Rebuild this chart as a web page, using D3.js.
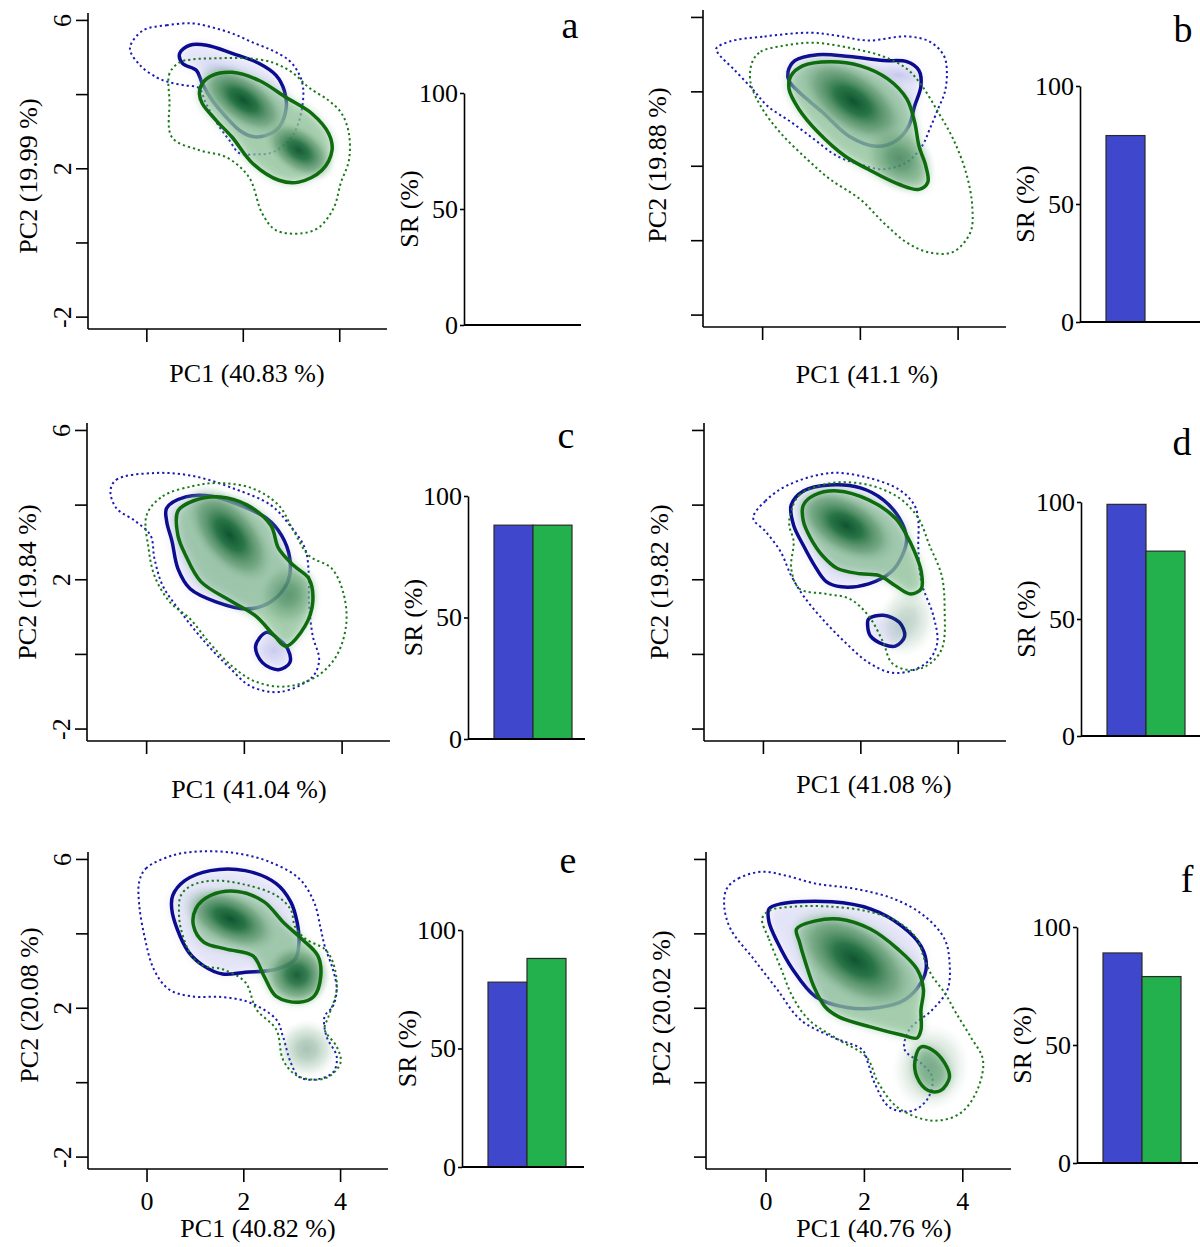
<!DOCTYPE html>
<html><head><meta charset="utf-8">
<script src="https://cdn.jsdelivr.net/npm/d3@7"></script>
<style>
body{margin:0;background:#fff}
text{font-family:"Liberation Serif","Times New Roman",serif;fill:#000}
</style></head>
<body><svg id="c" width="1200" height="1247"></svg>
<script>
// ---------------- DATA ----------------
const panelLetters = ["a","b","c","d","e","f"];
const pc1Titles = ["PC1 (40.83 %)","PC1 (41.1 %)","PC1 (41.04 %)","PC1 (41.08 %)","PC1 (40.82 %)","PC1 (40.76 %)"];
const pc2Titles = ["PC2 (19.99 %)","PC2 (19.88 %)","PC2 (19.84 %)","PC2 (19.82 %)","PC2 (20.08 %)","PC2 (20.02 %)"];
const srGroups = ["blue","green"];
const srBlue  = [null, 79, 88, 99, 78, 89];
const srGreen = [null, null, 88, 79, 88, 79];
const srTicks = [0, 50, 100];
const pcYTicks = [6, 4, 2, 0, -2];
const pcYTickLabels = [6, 2, -2];
const pcXTicks = [0, 2, 4];

// contours in (PC1, PC2) units
const blueDottedA = [[-0.08,5.73],[0.41,5.87],[0.95,5.92],[1.36,5.81],[1.77,5.65],[2.19,5.41],[2.60,5.19],[2.95,4.92],[3.15,4.57],[3.24,4.19],[3.22,3.65],[3.11,3.12],[2.95,2.77],[2.60,2.44],[2.27,2.39],[1.92,2.42],[1.71,2.77],[1.51,3.12],[1.34,3.49],[1.20,3.84],[1.09,4.17],[0.78,4.25],[0.47,4.33],[0.21,4.46],[-0.14,4.79],[-0.35,5.25]];
const greenDottedA = [[0.68,4.87],[0.47,4.57],[0.47,3.84],[0.52,2.85],[1.09,2.50],[1.65,2.31],[2.12,1.77],[2.39,0.80],[2.68,0.34],[3.22,0.26],[3.57,0.42],[3.88,0.96],[4.02,1.61],[4.19,2.23],[4.19,2.95],[4.04,3.49],[3.77,3.84],[3.36,4.19],[3.01,4.60],[2.60,4.87],[2.06,4.98],[1.51,4.98],[0.95,4.95]];
const blueSolidA = [[[0.68,5.11],[0.89,5.33],[1.24,5.33],[1.77,5.11],[2.33,4.84],[2.68,4.52],[2.85,4.11],[2.89,3.65],[2.74,3.12],[2.47,2.90],[2.19,2.87],[1.92,3.04],[1.65,3.39],[1.36,3.84],[1.15,4.30],[1.03,4.65],[0.74,4.84]]];
const greenSolidA = [[[1.15,4.30],[1.36,4.52],[1.77,4.60],[2.33,4.38],[2.89,3.92],[3.42,3.49],[3.77,2.95],[3.84,2.50],[3.63,1.96],[3.15,1.64],[2.74,1.69],[2.19,2.15],[1.77,2.85],[1.44,3.30],[1.15,3.76],[1.09,4.03]]];

const blueDottedB = [[-0.68,5.35],[0.04,5.49],[0.97,5.59],[1.53,5.51],[2.16,5.38],[2.95,5.49],[3.42,5.35],[3.71,4.97],[3.77,4.54],[3.73,4.00],[3.59,3.54],[3.42,3.00],[3.26,2.54],[2.95,2.11],[2.47,1.92],[2.00,2.05],[1.53,2.27],[1.05,2.73],[0.58,3.19],[0.10,3.62],[-0.21,4.08],[-0.60,4.62],[-0.87,4.97],[-0.95,5.16]];
const greenDottedB = [[-0.21,4.81],[-0.04,5.08],[0.43,5.24],[1.05,5.32],[1.86,5.16],[2.47,4.95],[2.95,4.62],[3.26,4.16],[3.59,3.46],[3.90,2.73],[4.16,1.84],[4.29,0.92],[4.25,0.22],[3.90,-0.30],[3.42,-0.32],[2.95,-0.05],[2.47,0.49],[2.00,1.11],[1.38,1.65],[0.91,2.19],[0.35,2.92],[-0.04,3.62],[-0.25,4.27]];
const blueSolidB = [[[0.52,4.54],[0.66,4.84],[1.13,5.00],[1.77,4.95],[2.47,4.84],[2.95,4.81],[3.20,4.57],[3.24,4.16],[3.11,3.62],[2.99,3.08],[2.72,2.68],[2.33,2.54],[1.77,2.81],[1.22,3.46],[0.74,4.00],[0.54,4.30]]];
const greenSolidB = [[[0.58,4.43],[0.82,4.70],[1.38,4.81],[2.00,4.70],[2.56,4.35],[2.95,3.81],[3.11,3.19],[3.20,2.54],[3.34,2.00],[3.38,1.57],[3.20,1.38],[2.80,1.51],[2.16,1.92],[1.69,2.27],[1.13,2.92],[0.74,3.54],[0.54,4.08]]];

const blueDottedC = [[-0.74,4.38],[-0.62,4.68],[0.16,4.86],[0.95,4.78],[1.75,4.46],[2.54,4.00],[2.93,3.46],[3.24,2.84],[3.32,2.11],[3.32,1.41],[3.40,0.49],[3.53,-0.14],[3.40,-0.59],[2.76,-1.00],[2.14,-0.86],[1.67,-0.32],[1.20,0.32],[0.72,1.10],[0.33,1.84],[0.16,2.57],[0.08,3.19],[-0.23,3.57],[-0.62,3.92]];
const greenDottedC = [[0.00,3.73],[0.33,4.24],[0.95,4.51],[1.42,4.59],[2.14,4.46],[2.70,4.00],[3.01,3.30],[3.32,2.65],[3.79,2.30],[4.04,1.57],[4.08,0.76],[3.88,-0.05],[3.48,-0.59],[2.85,-0.86],[2.23,-0.73],[1.75,-0.32],[1.28,0.32],[0.89,0.95],[0.47,1.41],[0.16,2.11],[0.04,2.84]];
const blueSolidC = [[[0.41,3.92],[0.80,4.22],[1.34,4.24],[1.90,4.00],[2.45,3.65],[2.76,3.19],[2.93,2.57],[2.89,1.95],[2.54,1.41],[2.06,1.22],[1.42,1.41],[0.89,1.76],[0.64,2.30],[0.52,3.03],[0.41,3.57]],[[2.45,0.59],[2.23,0.22],[2.37,-0.22],[2.70,-0.41],[2.93,-0.22],[2.89,0.14],[2.70,0.41]]];
const greenSolidC = [[[0.64,3.84],[0.95,4.11],[1.51,4.22],[2.06,4.00],[2.54,3.46],[2.70,2.84],[3.01,2.38],[3.32,2.03],[3.40,1.41],[3.24,0.76],[2.85,0.22],[2.62,0.49],[2.23,1.03],[1.75,1.41],[1.11,1.95],[0.80,2.65],[0.64,3.19]]];

const blueDottedD = [[-0.21,3.65],[0.04,4.11],[0.51,4.54],[1.38,4.86],[2.16,4.73],[2.79,4.41],[3.10,4.00],[3.18,3.57],[3.18,2.84],[3.24,1.95],[3.49,1.03],[3.57,0.32],[3.41,-0.14],[3.10,-0.41],[2.63,-0.49],[2.16,-0.22],[1.68,0.32],[1.21,0.95],[0.82,1.57],[0.57,2.11],[0.35,2.76],[0.04,3.30]];
const greenDottedD = [[0.57,3.84],[0.74,4.27],[1.38,4.59],[2.16,4.54],[2.79,4.19],[3.18,3.65],[3.41,2.92],[3.66,2.11],[3.72,1.22],[3.66,0.14],[3.33,-0.32],[2.94,-0.41],[2.63,-0.22],[2.46,0.32],[2.16,1.03],[1.77,1.49],[1.29,1.62],[0.74,1.76],[0.57,2.30],[0.62,3.03],[0.53,3.46]];
const blueSolidD = [[[0.57,4.00],[0.82,4.38],[1.38,4.54],[1.99,4.46],[2.46,4.14],[2.79,3.65],[2.94,3.11],[2.85,2.65],[2.63,2.22],[2.16,1.89],[1.60,1.81],[1.29,1.95],[1.05,2.38],[0.82,2.92],[0.62,3.46]],[[2.16,0.95],[2.46,1.05],[2.79,0.86],[2.90,0.49],[2.71,0.22],[2.46,0.27],[2.20,0.49],[2.14,0.76]]];
const greenSolidD = [[[0.82,4.00],[1.05,4.27],[1.52,4.38],[2.16,4.14],[2.71,3.65],[2.94,3.19],[3.10,2.76],[3.24,2.22],[3.24,1.76],[3.02,1.62],[2.71,1.84],[2.38,2.11],[1.99,2.16],[1.52,2.30],[1.21,2.65],[0.97,3.11],[0.82,3.57]]];

const blueDottedE = [[-0.16,5.41],[-0.02,5.76],[0.53,6.11],[1.17,6.22],[1.87,6.16],[2.50,5.95],[3.14,5.49],[3.45,4.86],[3.59,4.14],[3.67,3.68],[3.84,3.05],[3.92,2.51],[3.84,2.05],[3.67,1.78],[3.71,1.24],[3.92,0.70],[3.84,0.27],[3.45,0.08],[3.14,0.16],[2.97,0.54],[2.81,1.24],[2.67,1.70],[2.11,2.16],[1.56,2.30],[0.92,2.32],[0.45,2.51],[0.14,3.05],[-0.04,3.86],[-0.16,4.76]];
const greenDottedE = [[0.70,5.03],[0.92,5.30],[1.39,5.43],[2.03,5.32],[2.67,5.03],[2.97,4.65],[3.06,4.19],[3.28,3.86],[3.67,3.59],[3.84,3.24],[3.92,2.51],[3.75,1.78],[3.67,1.43],[3.92,0.97],[4.00,0.54],[3.75,0.16],[3.45,0.08],[3.06,0.22],[2.81,0.62],[2.67,1.43],[2.26,1.97],[2.03,2.70],[1.56,3.05],[1.17,3.14],[0.92,3.41],[0.70,4.14],[0.66,4.59]];
const blueSolidE = [[[0.53,5.03],[0.78,5.43],[1.31,5.70],[2.03,5.70],[2.67,5.35],[2.97,4.86],[3.10,4.32],[3.14,3.78],[3.06,3.32],[2.67,3.05],[2.03,2.97],[1.56,2.92],[1.17,3.14],[0.86,3.51],[0.62,4.14],[0.51,4.68]]];
const greenSolidE = [[[1.01,4.68],[1.31,5.03],[1.87,5.14],[2.42,4.86],[2.81,4.32],[3.20,3.86],[3.53,3.41],[3.59,2.86],[3.45,2.32],[3.14,2.16],[2.67,2.32],[2.42,2.86],[2.19,3.41],[1.64,3.59],[1.17,3.78],[0.96,4.22]]];

const blueDottedF = [[-0.80,5.21],[-0.56,5.49],[-0.08,5.67],[0.39,5.57],[1.01,5.35],[1.81,5.21],[2.60,4.94],[3.22,4.48],[3.63,3.86],[3.73,3.24],[3.69,2.50],[3.38,1.96],[2.91,1.42],[2.82,0.88],[3.15,0.53],[3.38,0.15],[3.30,-0.40],[2.99,-0.75],[2.52,-0.67],[2.21,-0.02],[2.08,0.50],[1.96,0.88],[1.34,1.23],[0.70,1.69],[0.23,2.50],[-0.25,3.32],[-0.72,4.13],[-0.85,4.75]];
const greenDottedF = [[-0.08,4.40],[0.06,3.86],[0.31,3.05],[0.54,2.31],[0.87,1.69],[1.48,1.15],[2.04,0.69],[2.29,-0.02],[2.68,-0.67],[3.38,-1.02],[3.94,-0.83],[4.29,-0.21],[4.41,0.61],[4.16,1.23],[3.86,1.88],[3.63,2.42],[3.38,2.86],[3.22,3.32],[3.07,3.86],[2.68,4.32],[2.12,4.59],[1.34,4.73],[0.54,4.73],[0.06,4.62]];
const blueSolidF = [[[0.06,4.67],[0.31,4.81],[1.34,4.86],[2.12,4.67],[2.76,4.21],[3.15,3.67],[3.26,3.13],[3.15,2.69],[2.82,2.23],[2.29,2.02],[1.65,2.02],[1.01,2.31],[0.54,3.05],[0.23,3.78],[0.06,4.32]]];
const greenSolidF = [[[0.62,4.13],[1.01,4.35],[1.48,4.40],[2.12,4.13],[2.68,3.59],[3.07,3.05],[3.20,2.50],[3.15,1.96],[3.15,1.42],[3.07,1.20],[2.76,1.28],[2.12,1.50],[1.48,1.77],[1.20,2.04],[0.97,2.59],[0.80,3.24],[0.68,3.78]],[[3.15,0.96],[3.38,0.88],[3.63,0.53],[3.73,0.15],[3.55,-0.21],[3.30,-0.21],[3.07,0.15],[3.03,0.61]]];

// density hot spots: [PC1, PC2, half-width PC1, half-height PC2, tilt deg, strength]
const greenDensityA = [[2.0,3.85,1.1,0.7,35,1.0],[3.15,2.5,0.85,0.65,35,0.95]];
const blueDensityA  = [[1.65,4.6,0.75,0.35,20,0.7]];
const greenDensityB = [[1.85,3.75,1.35,0.9,35,1.0],[2.8,2.2,0.8,0.85,40,0.5]];
const blueDensityB  = [[2.8,4.45,0.55,0.3,10,0.7]];
const greenDensityC = [[1.7,3.2,1.25,0.85,50,1.0],[2.9,1.6,0.65,0.9,20,0.45]];
const blueDensityC  = [[1.5,2.6,1.6,0.9,50,0.6],[2.6,0.1,0.5,0.5,0,0.6]];
const greenDensityD = [[1.7,3.45,1.2,0.85,30,1.0],[2.95,0.9,0.6,1.0,10,0.25]];
const blueDensityD  = [[1.6,3.3,1.2,0.9,35,0.35]];
const greenDensityE = [[1.72,4.4,1.1,0.75,25,1.0],[3.1,2.9,0.7,0.85,20,0.9],[3.3,0.9,0.65,0.8,0,0.35]];
const blueDensityE  = [];
const greenDensityF = [[1.8,3.3,1.5,1.05,35,1.0],[3.35,0.4,0.8,1.2,10,0.28]];
const blueDensityF  = [];

// ---------------- LAYOUT ----------------
const panels = [
  {bd:blueDottedA,gd:greenDottedA,bs:blueSolidA,gs:greenSolidA,gden:greenDensityA,bden:blueDensityA},
  {bd:blueDottedB,gd:greenDottedB,bs:blueSolidB,gs:greenSolidB,gden:greenDensityB,bden:blueDensityB},
  {bd:blueDottedC,gd:greenDottedC,bs:blueSolidC,gs:greenSolidC,gden:greenDensityC,bden:blueDensityC},
  {bd:blueDottedD,gd:greenDottedD,bs:blueSolidD,gs:greenSolidD,gden:greenDensityD,bden:blueDensityD},
  {bd:blueDottedE,gd:greenDottedE,bs:blueSolidE,gs:greenSolidE,gden:greenDensityE,bden:blueDensityE},
  {bd:blueDottedF,gd:greenDottedF,bs:blueSolidF,gs:greenSolidF,gden:greenDensityF,bden:blueDensityF}
];
const layout = [
 {L:88, R:387, T:13, B:329, bx:464, br:581, b0:325, b100:93,  let:[570,38],  pc1:[247,382], pc2:[37,176], yl:true, xl:false},
 {L:703,R:1006,T:10, B:327, bx:1080,br:1200,b0:322, b100:86,  let:[1183,42], pc1:[867,383], pc2:[666,165],yl:false,xl:false},
 {L:87, R:390, T:423,B:741, bx:468, br:585, b0:739, b100:496, let:[566,448], pc1:[249,798], pc2:[36,582], yl:true, xl:false},
 {L:704,R:1006,T:423,B:741, bx:1081,br:1200,b0:736, b100:502, let:[1182,455],pc1:[874,793], pc2:[668,582],yl:false,xl:false},
 {L:88, R:388, T:852,B:1169,bx:462, br:584, b0:1167,b100:930, let:[568,873], pc1:[258,1237],pc2:[38,1005],yl:true, xl:true},
 {L:706,R:1011,T:852,B:1169,bx:1077,br:1198,b0:1163,b100:927, let:[1187,892],pc1:[874,1237],pc2:[670,1008],yl:false,xl:true}
];
const xDom = [-1.22, 4.98], yDom = [-2.32, 6.2];

const svg = d3.select("#c");
const defs = svg.append("defs");
defs.append("filter").attr("id","blur").attr("x","-50%").attr("y","-50%").attr("width","200%").attr("height","200%")
  .append("feGaussianBlur").attr("stdDeviation",5);
const gg = defs.append("radialGradient").attr("id","gg");
[[0,"#0e5430",1],[0.3,"#1c6b3c",0.9],[0.65,"#558f65",0.55],[1,"#a9d1b1",0]].forEach(s=>
  gg.append("stop").attr("offset",s[0]).attr("stop-color",s[1]).attr("stop-opacity",s[2]));
const bg = defs.append("radialGradient").attr("id","bg");
[[0,"#a8a8e6",0.7],[1,"#c8c8f2",0]].forEach(s=>
  bg.append("stop").attr("offset",s[0]).attr("stop-color",s[1]).attr("stop-opacity",s[2]));

const C = {bDot:"#1a1ab4", gDot:"#1a7a1a", bSol:"#0b0b8f", gSol:"#0e6b0e", barB:"#3f48cc", barG:"#22b14c"};

panels.forEach((p,i)=>{
  const Ly = layout[i];
  const xs = d3.scaleLinear().domain(xDom).range([Ly.L, Ly.R]);
  const ys = d3.scaleLinear().domain(yDom).range([Ly.B, Ly.T]);
  const line = d3.line().x(d=>xs(d[0])).y(d=>ys(d[1])).curve(d3.curveCatmullRomClosed.alpha(0.5));
  const g = svg.append("g");
  const blob = (sel, data, grad) => sel.selectAll("ellipse").data(data).join("ellipse")
      .attr("cx",d=>xs(d[0])).attr("cy",d=>ys(d[1]))
      .attr("rx",d=>xs(d[2])-xs(0)).attr("ry",d=>ys(0)-ys(d[3]))
      .attr("transform",d=>`rotate(${d[4]},${xs(d[0])},${ys(d[1])})`)
      .attr("fill",`url(#${grad})`).attr("opacity",d=>d[5]);

  // blue density
  const bDen = g.append("g");
  bDen.selectAll("path").data(p.bs).join("path").attr("d",line)
     .attr("fill","#c4c4f0").attr("opacity",0.45).attr("filter","url(#blur)");
  blob(bDen.append("g"), p.bden, "bg");
  // blue lines
  g.append("path").attr("d",line(p.bd)).attr("fill","none").attr("stroke",C.bDot)
     .attr("stroke-width",2).attr("stroke-dasharray","2.2,3");
  g.append("g").selectAll("path").data(p.bs).join("path").attr("d",line)
     .attr("fill","none").attr("stroke",C.bSol).attr("stroke-width",3.5);
  // green density
  const gDen = g.append("g");
  gDen.selectAll("path").data(p.gs).join("path").attr("d",line)
     .attr("fill","#8cc097").attr("opacity",0.78).attr("filter","url(#blur)");
  blob(gDen.append("g"), p.gden, "gg");
  // green lines
  g.append("path").attr("d",line(p.gd)).attr("fill","none").attr("stroke",C.gDot)
     .attr("stroke-width",2).attr("stroke-dasharray","2.2,3");
  g.append("g").selectAll("path").data(p.gs).join("path").attr("d",line)
     .attr("fill","none").attr("stroke",C.gSol).attr("stroke-width",3.5);

  // axes
  const ax = svg.append("g").attr("stroke","#000").attr("stroke-width",1.6);
  ax.append("line").attr("x1",Ly.L).attr("x2",Ly.L).attr("y1",Ly.T).attr("y2",Ly.B);
  ax.append("line").attr("x1",Ly.L).attr("x2",Ly.R).attr("y1",Ly.B).attr("y2",Ly.B);
  ax.selectAll(".yt").data(pcYTicks).join("line").attr("x1",Ly.L-12).attr("x2",Ly.L)
    .attr("y1",d=>ys(d)).attr("y2",d=>ys(d));
  ax.selectAll(".xt").data(pcXTicks).join("line").attr("class","xt").attr("y1",Ly.B).attr("y2",Ly.B+13)
    .attr("x1",d=>xs(d)).attr("x2",d=>xs(d));
  if (Ly.yl) {
    svg.append("g").selectAll("text").data(pcYTickLabels).join("text")
      .attr("transform",d=>`translate(${Ly.L-17},${ys(d)}) rotate(-90)`)
      .attr("text-anchor","middle").attr("font-size",26).text(d=>d);
  }
  if (Ly.xl) {
    svg.append("g").selectAll("text").data(pcXTicks).join("text")
      .attr("x",d=>xs(d)).attr("y",Ly.B+41).attr("text-anchor","middle").attr("font-size",26).text(d=>d);
  }
  svg.append("text").attr("x",Ly.pc1[0]).attr("y",Ly.pc1[1]).attr("text-anchor","middle")
     .attr("font-size",26).text(pc1Titles[i]);
  svg.append("text").attr("transform",`translate(${Ly.pc2[0]},${Ly.pc2[1]}) rotate(-90)`)
     .attr("text-anchor","middle").attr("font-size",26).text(pc2Titles[i]);

  // bar chart
  const sy = d3.scaleLinear().domain([0,100]).range([Ly.b0, Ly.b100]);
  const sx = d3.scaleBand().domain(srGroups).range([Ly.bx+26, Ly.bx+104]).padding(0);
  const vals = [{k:"blue",v:srBlue[i],c:C.barB},{k:"green",v:srGreen[i],c:C.barG}].filter(d=>d.v!=null);
  svg.append("g").selectAll("rect").data(vals).join("rect")
     .attr("x",d=>sx(d.k)).attr("width",sx.bandwidth())
     .attr("y",d=>sy(d.v)).attr("height",d=>sy(0)-sy(d.v))
     .attr("fill",d=>d.c).attr("stroke","#2a2a2a").attr("stroke-width",1.2);
  const yAx = svg.append("g").attr("transform",`translate(${Ly.bx},0)`)
     .call(d3.axisLeft(sy).tickValues(srTicks).tickSize(4).tickSizeOuter(0).tickPadding(2));
  yAx.selectAll("path,line").attr("stroke","#000").attr("stroke-width",1.6);
  yAx.selectAll("text").attr("font-size",26).attr("font-family","Liberation Serif").attr("fill","#000");
  svg.append("line").attr("x1",Ly.bx).attr("x2",Ly.br).attr("y1",Ly.b0).attr("y2",Ly.b0)
     .attr("stroke","#000").attr("stroke-width",1.8);
  svg.append("text").attr("transform",`translate(${Ly.bx-46},${(Ly.b0+Ly.b100)/2}) rotate(-90)`)
     .attr("text-anchor","middle").attr("font-size",26).text("SR (%)");
  svg.append("text").attr("x",Ly.let[0]).attr("y",Ly.let[1]).attr("text-anchor","middle")
     .attr("font-size",38).text(panelLetters[i]);
});
</script></body></html>
